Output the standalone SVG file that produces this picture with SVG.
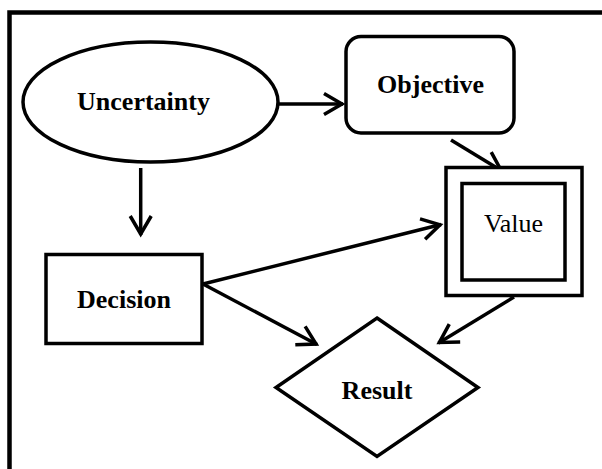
<svg xmlns="http://www.w3.org/2000/svg" width="602" height="469" viewBox="0 0 602 469">
<style>
.shape{fill:#fff;stroke:#000;stroke-width:3.5}
.conn{fill:none;stroke:#000;stroke-width:3.5}
.lbl{font-family:"Liberation Serif","Times New Roman",serif;font-size:26px;fill:#000;text-anchor:middle}
.b{font-weight:bold}
</style>
<defs>
<marker id="arr" markerUnits="userSpaceOnUse" markerWidth="40" markerHeight="40" viewBox="-25 -20 30 40" refX="0" refY="0" orient="auto" overflow="visible">
<path d="M-19,-10.5 L-1,0 L-19,10.5" fill="none" stroke="#000" stroke-width="3.5" stroke-linejoin="miter"/>
</marker>
</defs>
<rect width="602" height="469" fill="#fff"/>
<path d="M9.5,469 V12.5 H602" fill="none" stroke="#000" stroke-width="4.5"/>
<g id="connectors">
<line class="conn" x1="140.7" y1="168" x2="140.7" y2="235" marker-end="url(#arr)"/>
<line class="conn" x1="278" y1="104" x2="343" y2="104" marker-end="url(#arr)"/>
<line class="conn" x1="451" y1="140" x2="502" y2="171" marker-end="url(#arr)"/>
<line class="conn" x1="203" y1="284" x2="441" y2="224.5" marker-end="url(#arr)"/>
<line class="conn" x1="203" y1="284" x2="317" y2="344.5" marker-end="url(#arr)"/>
<line class="conn" x1="514" y1="297" x2="438.5" y2="343" marker-end="url(#arr)"/>
</g>
<g id="uncertainty">
<ellipse class="shape" cx="150.5" cy="102" rx="127.5" ry="60"/>
<text class="lbl b" x="143.5" y="110">Uncertainty</text>
</g>
<g id="objective">
<rect class="shape" x="346" y="36.5" width="168" height="96.5" rx="15" ry="15"/>
<text class="lbl b" x="430.5" y="93">Objective</text>
</g>
<g id="value">
<rect class="shape" x="446" y="167.5" width="136" height="128" stroke-width="4"/>
<rect class="shape" x="462" y="183.5" width="103" height="96.5" stroke-width="4"/>
<text class="lbl" x="513.5" y="232">Value</text>
</g>
<g id="decision">
<rect class="shape" x="46" y="254.5" width="156" height="89"/>
<text class="lbl b" x="124" y="308">Decision</text>
</g>
<g id="result">
<polygon class="shape" points="377,318 478,387.5 377,456.5 276,387.5"/>
<text class="lbl b" x="377" y="399">Result</text>
</g>
</svg>
